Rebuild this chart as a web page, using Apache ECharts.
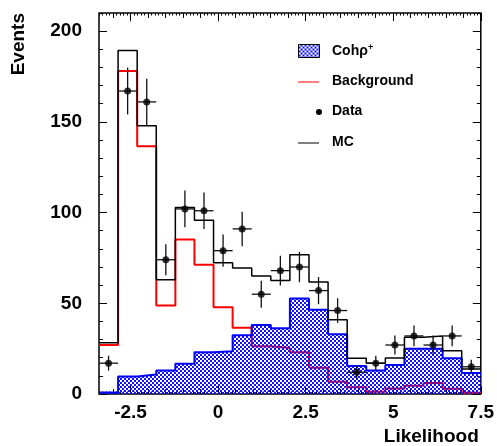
<!DOCTYPE html>
<html>
<head>
<meta charset="utf-8">
<script src="https://cdn.jsdelivr.net/npm/echarts@6/dist/echarts.min.js"></script>
<style>
  html, body { margin: 0; padding: 0; background: #fff; }
  #chart { width: 497px; height: 446px; }
</style>
</head>
<body>
<div id="chart"></div>
<script>
// binning of the likelihood histogram
var binLo = -3.4;
var binHi = 7.5;
var nBins = 20;

// values, one per bin
var cohRho = [0.8, 9.7, 10.8, 12.9, 16.7, 23, 23.5, 32.4, 38.1, 36.2, 52.7, 46.4, 32.9, 15.5, 12.9, 16, 25, 25, 19.7, 11.6];
var background = [27, 178, 136.5, 48.8, 85.2, 71.3, 47.8, 36.5, 26.3, 25.4, 23, 14.4, 6.8, 3.7, 1.3, 3.1, 4.6, 6.1, 2.9, 0.7];
var mc = [28.2, 189.3, 147.8, 63, 102.8, 95.7, 72.4, 69.4, 65, 62.5, 76.8, 61.7, 40.9, 19.7, 16.9, 19.9, 31.3, 32, 23.9, 13.8];
var data = [17, 167, 161, 74, 102, 101, 79, 91, 55, 68, 70, 57, 46, 12, 17, 27, 32, 27, 32, 15];
var dataErr = [4.1, 12.9, 12.7, 8.6, 10.1, 10, 8.9, 9.5, 7.4, 8.2, 8.4, 7.5, 6.8, 3.5, 4.1, 5.2, 5.7, 5.2, 5.7, 3.9];

// tick labels
var xLabels = [-2.5, 0, 2.5, 5, 7.5];
var yLabels = [0, 50, 100, 150, 200];

var binW = (binHi - binLo) / nBins;
var edges = [];
for (var i = 0; i <= nBins; i++) edges.push(binLo + i * binW);

function stepData(vals) {
    return edges.map(function(e, i) {
        return [e, vals[Math.min(i, vals.length - 1)]];
    });
}

function ticksEvery(step, lo, hi) {
    var out = [];
    var k0 = Math.ceil(lo / step - 1e-9), k1 = Math.floor(hi / step + 1e-9);
    for (var k = k0; k <= k1; k++) out.push(Math.round(k * step * 1000) / 1000);
    return out;
}

// blue cross hatch, pixel pattern with see-through holes
var hatch = document.createElement('canvas');
hatch.width = 4; hatch.height = 4;
var hc = hatch.getContext('2d');
hc.fillStyle = '#1010ff';
hc.fillRect(0, 0, 4, 4);
hc.clearRect(0, 0, 2, 2);
hc.clearRect(2, 2, 2, 2);
var hatchFill = { image: hatch, repeat: 'repeat' };

var font = 'Liberation Sans, Arial, Helvetica, sans-serif';

function xAxisDef(pos, ticks, len, extra) {
    var ax = {
        type: 'value', position: pos, min: binLo, max: binHi,
        axisLine: { show: false, onZero: false },
        splitLine: { show: false },
        axisLabel: { show: false },
        axisTick: { show: true, inside: true, length: len, customValues: ticks,
            lineStyle: { color: '#000', width: 1 } }
    };
    if (extra) for (var k in extra) ax[k] = extra[k];
    return ax;
}

function yAxisDef(pos, ticks, len, extra) {
    var ax = {
        type: 'value', position: pos, min: 0, max: 210,
        axisLine: { show: false, onZero: false },
        splitLine: { show: false },
        axisLabel: { show: false },
        axisTick: { show: true, inside: true, length: len, customValues: ticks,
            lineStyle: { color: '#000', width: 1 } }
    };
    if (extra) for (var k in extra) ax[k] = extra[k];
    return ax;
}

var chart = echarts.init(document.getElementById('chart'));

var option = {
    animation: false,
    backgroundColor: '#fff',
    grid: { left: 99, right: 15, top: 13, bottom: 52, show: true,
        borderColor: '#000', borderWidth: 1.5, backgroundColor: 'transparent' },
    xAxis: [
        xAxisDef('bottom', xLabels, 8, {
            axisLabel: { show: true, customValues: xLabels, margin: 9, showMaxLabel: true,
                fontFamily: font, fontWeight: 'bold', fontSize: 19, color: '#000' },
            name: 'Likelihood', nameLocation: 'end', nameGap: 0,
            nameTextStyle: { fontFamily: font, fontWeight: 'bold', fontSize: 19, color: '#000',
                align: 'right', verticalAlign: 'top', padding: [33, 2, 0, 0] }
        }),
        xAxisDef('bottom', ticksEvery(0.5, binLo, binHi), 5),
        xAxisDef('bottom', ticksEvery(0.1, binLo, binHi), 2.5),
        xAxisDef('top', xLabels, 8),
        xAxisDef('top', ticksEvery(0.5, binLo, binHi), 5),
        xAxisDef('top', ticksEvery(0.1, binLo, binHi), 2.5)
    ],
    yAxis: [
        yAxisDef('left', yLabels, 8, {
            axisLabel: { show: true, customValues: yLabels, margin: 17,
                fontFamily: font, fontWeight: 'bold', fontSize: 19, color: '#000' }
        }),
        yAxisDef('left', ticksEvery(10, 0, 210), 4),
        yAxisDef('right', yLabels, 8),
        yAxisDef('right', ticksEvery(10, 0, 210), 4)
    ],
    series: [
        {
            name: 'Background', type: 'line', step: 'end', showSymbol: false,
            data: stepData(background), z: 2,
            lineStyle: { color: '#ff0000', width: 2 }
        },
        {
            name: 'Cohrho', type: 'line', step: 'end', showSymbol: false,
            data: stepData(cohRho), z: 3,
            lineStyle: { color: '#0000ff', width: 2 },
            areaStyle: { color: hatchFill, opacity: 1 }
        },
        {
            name: 'MC', type: 'line', step: 'end', showSymbol: false,
            data: stepData(mc), z: 4,
            lineStyle: { color: '#000', width: 1.5 }
        },
        {
            name: 'DataErr', type: 'custom', z: 5,
            data: data.map(function(v, i) { return [edges[i] + binW / 2, v, dataErr[i]]; }),
            renderItem: function(params, api) {
                var x = api.value(0), y = api.value(1), e = api.value(2);
                var a = api.coord([x - binW / 2, y]), b = api.coord([x + binW / 2, y]);
                var c = api.coord([x, y - e]), d = api.coord([x, y + e]);
                var st = { stroke: '#111', lineWidth: 1.3 };
                return { type: 'group', children: [
                    { type: 'line', shape: { x1: a[0], y1: a[1], x2: b[0], y2: b[1] }, style: st },
                    { type: 'line', shape: { x1: c[0], y1: c[1], x2: d[0], y2: d[1] }, style: st }
                ] };
            }
        },
        {
            name: 'Data', type: 'scatter', z: 6, symbolSize: 7,
            itemStyle: { color: '#000' },
            data: data.map(function(v, i) { return [edges[i] + binW / 2, v]; })
        }
    ],
    graphic: [
        { type: 'text', x: 19, y: 13, rotation: Math.PI / 2,
          style: { text: 'Events', fill: '#000', font: 'bold 19px ' + font,
            align: 'right', verticalAlign: 'middle' } },
        { type: 'rect', left: 298, top: 44, shape: { width: 21, height: 13 },
          style: { fill: hatchFill, stroke: '#000', lineWidth: 1 } },
        { type: 'text', left: 332, top: 43,
          style: { text: '{a|Cohρ}{b|+}', fill: '#000',
            rich: { a: { fontFamily: font, fontWeight: 'bold', fontSize: 14, lineHeight: 16 },
                    b: { fontFamily: font, fontWeight: 'bold', fontSize: 9, verticalAlign: 'top', lineHeight: 16, padding: [0, 0, 6, 0] } } } },
        { type: 'line', shape: { x1: 298, y1: 82, x2: 319, y2: 82 }, style: { stroke: '#ff0000', lineWidth: 1 } },
        { type: 'text', left: 332, top: 74,
          style: { text: 'Background', fill: '#000', font: 'bold 14px ' + font } },
        { type: 'circle', shape: { cx: 319, cy: 112, r: 3 }, style: { fill: '#000' } },
        { type: 'text', left: 332, top: 104,
          style: { text: 'Data', fill: '#000', font: 'bold 14px ' + font } },
        { type: 'line', shape: { x1: 298, y1: 143, x2: 319, y2: 143 }, style: { stroke: '#000', lineWidth: 1 } },
        { type: 'text', left: 332, top: 135,
          style: { text: 'MC', fill: '#000', font: 'bold 14px ' + font } }
    ]
};

chart.setOption(option);
</script>
</body>
</html>
